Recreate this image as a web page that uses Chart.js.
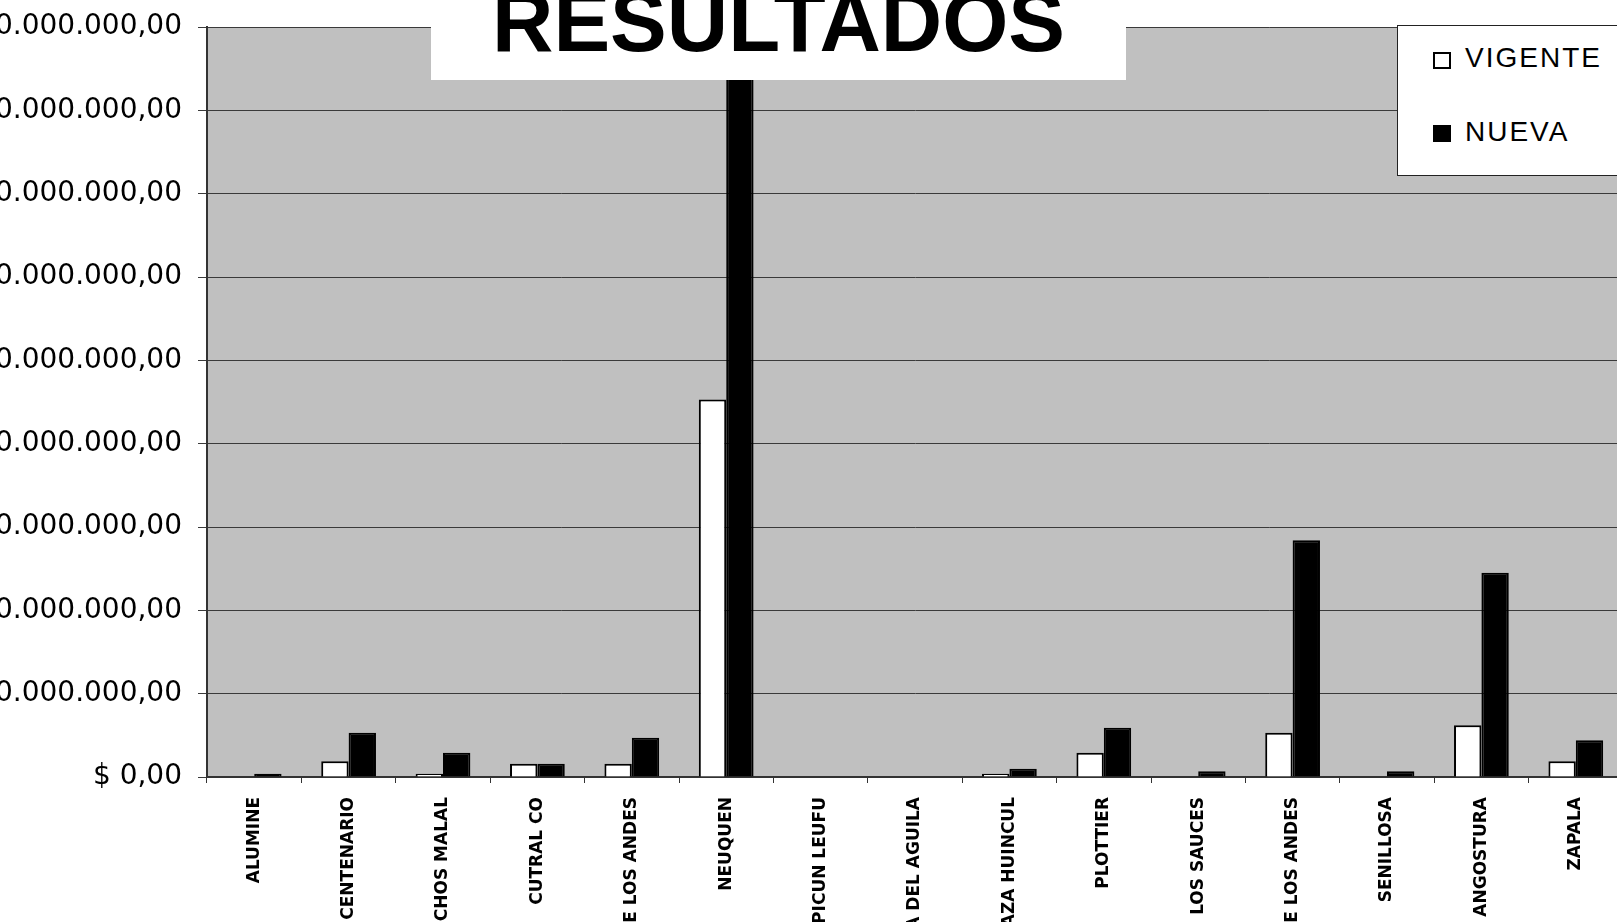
<!DOCTYPE html>
<html>
<head>
<meta charset="utf-8">
<script src="https://cdn.jsdelivr.net/npm/chart.js@4.4.1/dist/chart.umd.min.js"></script>
<style>
  html, body { margin: 0; padding: 0; background: #fff; overflow: hidden; }
  #wrap { position: absolute; left: 0; top: 0; width: 1660px; height: 922px; }
  #titulo { position: absolute; left: 431px; top: 0; width: 695px; height: 80px; background: #fff; overflow: hidden; }
  #titulo span { position: absolute; left: 0; top: -21px; width: 100%; text-align: center;
    font: bold 85px 'Liberation Sans', Arial, sans-serif; line-height: 85px; color: #000; }
  #leyenda { position: absolute; left: 1397px; top: 25px; width: 260px; height: 151px;
    border: 1px solid #222; background: #fff; box-sizing: border-box; }
  #leyenda .m { position: absolute; left: 35px; width: 18px; height: 17px; box-sizing: border-box; border: 2px solid #000; }
  #leyenda .t { position: absolute; left: 67px; font: 28px 'Liberation Sans', Arial, sans-serif;
    line-height: 28px; letter-spacing: 2px; color: #000; white-space: nowrap; }
</style>
</head>
<body>
<div id="wrap"><canvas id="grafico"></canvas></div>
<div id="titulo"><span>RESULTADOS</span></div>
<div id="leyenda"></div>
<script>
const localidades = ['ALUMINE', 'CENTENARIO', 'CHOS MALAL', 'CUTRAL CO', 'JUNIN DE LOS ANDES', 'NEUQUEN',
  'PICUN LEUFU', 'PIEDRA DEL AGUILA', 'PLAZA HUINCUL', 'PLOTTIER', 'RINCON DE LOS SAUCES',
  'SAN MARTIN DE LOS ANDES', 'SENILLOSA', 'VILLA LA ANGOSTURA', 'ZAPALA'];
const vigente = [0, 1900000, 400000, 1600000, 1600000, 45300000, 0, 0, 400000, 2900000, 0, 5300000, 0, 6200000, 1900000];
const nueva = [400000, 5300000, 2900000, 1600000, 4700000, 87000000, 0, 0, 1000000, 5900000, 700000, 28400000, 700000, 24500000, 4400000];
const ejeMax = 90000000;
const ejePaso = 10000000;

function pesos(v) {
  if (v === 0) return '$ 0,00';
  return '$ ' + String(v).replace(/\B(?=(\d{3})+(?!\d))/g, '.') + ',00';
}

const fondoGris = {
  id: 'fondoGris',
  beforeDraw(chart) {
    const a = chart.chartArea;
    const ctx = chart.ctx;
    ctx.save();
    ctx.fillStyle = '#c0c0c0';
    ctx.fillRect(a.left, a.top, a.right - a.left, a.bottom - a.top);
    ctx.restore();
  }
};

const ctx = document.getElementById('grafico').getContext('2d');
const grafico = new Chart(ctx, {
  type: 'bar',
  data: {
    labels: localidades,
    datasets: [
      { label: 'VIGENTE', data: vigente, backgroundColor: '#ffffff', borderColor: '#000000', borderWidth: 2 },
      { label: 'NUEVA', data: nueva, backgroundColor: '#000000', borderColor: '#000000', borderWidth: 2 }
    ]
  },
  options: {
    responsive: true,
    maintainAspectRatio: false,
    animation: false,
    layout: { padding: { top: 27, right: 37, bottom: 0, left: 0 } },
    datasets: { bar: { categoryPercentage: 0.58, barPercentage: 1.0 } },
    plugins: { legend: { display: false }, tooltip: { enabled: false } },
    scales: {
      x: {
        afterFit: s => { s.height = 145; },
        grid: { drawOnChartArea: false, tickLength: 6, color: '#333' },
        border: { color: '#333', width: 2 },
        ticks: {
          minRotation: 90, maxRotation: 90, autoSkip: false, padding: 14, color: '#000',
          font: { family: 'DejaVu Sans', size: 17, weight: 'bold' }
        }
      },
      y: {
        min: 0,
        max: ejeMax,
        afterFit: s => { s.width = 207; s.paddingTop = 0; s.paddingBottom = 0; },
        grid: { color: '#3a3a3a', lineWidth: 1, tickLength: 9 },
        border: { color: '#333', width: 2 },
        ticks: {
          stepSize: ejePaso, padding: 16, color: '#000',
          font: { family: 'DejaVu Sans', size: 28 },
          callback: v => pesos(v)
        }
      }
    }
  },
  plugins: [fondoGris]
});

// leyenda armada a partir de las series
const leyenda = document.getElementById('leyenda');
grafico.data.datasets.forEach((ds, i) => {
  const m = document.createElement('div');
  m.className = 'm';
  m.style.top = (26 + i * 73) + 'px';
  m.style.background = ds.backgroundColor;
  const t = document.createElement('div');
  t.className = 't';
  t.style.top = (18 + i * 74) + 'px';
  t.textContent = ds.label;
  leyenda.appendChild(m);
  leyenda.appendChild(t);
});
</script>
</body>
</html>
